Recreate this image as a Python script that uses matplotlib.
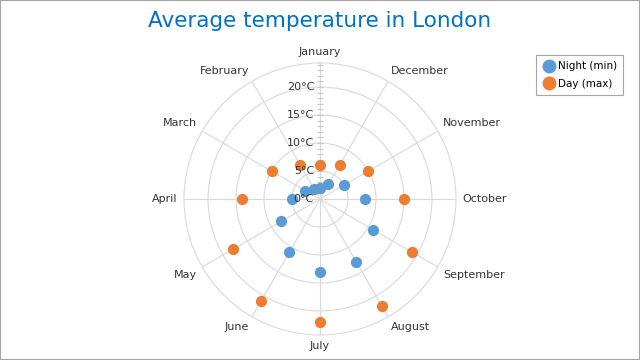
# Polar scatter: average London temperatures by month (night min / day max)
import numpy as np
import matplotlib
matplotlib.use('Agg')
import matplotlib.pyplot as plt
from matplotlib.lines import Line2D
from matplotlib.patches import Rectangle
from matplotlib import transforms

months = ['January', 'February', 'March', 'April', 'May', 'June',
          'July', 'August', 'September', 'October', 'November', 'December']
night_min = [2, 2, 3, 5, 8, 11, 13, 13, 11, 8, 5, 3]
day_max = [6, 7, 10, 14, 18, 21, 22, 22, 19, 15, 10, 7]
r_ticks = [0, 5, 10, 15, 20]

BLUE = '#5B9BD5'
ORANGE = '#ED7D31'
GRID = '#D9D9D9'
RMAX = 24.3

fig = plt.figure(figsize=(6.4, 3.6), dpi=100)
fig.patches.append(Rectangle((0, 0), 1, 1, transform=fig.transFigure,
                             fill=False, edgecolor='#A6A6A6', linewidth=1.5))

ax = fig.add_axes([0.2875, 0.0694, 0.425, 0.7556], projection='polar')
ax.set_theta_zero_location('N')
ax.set_theta_direction(1)
ax.set_ylim(0, RMAX)

theta = np.deg2rad(np.arange(len(months)) * 30)
ax.set_xticks(theta)
ax.set_xticklabels([])
ax.set_yticks(r_ticks[1:])
ax.set_yticklabels([])
ax.grid(True, color=GRID, linewidth=0.8)
ax.spines['polar'].set_color(GRID)
ax.spines['polar'].set_linewidth(0.8)
ax.tick_params(length=0)

# minor ticks along the radial axis
minor = [v for v in range(1, 25)]
ax.plot(np.zeros(len(minor)), minor, linestyle='none', marker='_',
        markersize=4, color='#C8C8C8', markeredgewidth=0.8, clip_on=False)

ax.scatter(theta, night_min, s=50, color=BLUE, zorder=3, clip_on=False)
ax.scatter(theta, day_max, s=50, color=ORANGE, zorder=3, clip_on=False)

# radial labels
off = transforms.offset_copy(ax.transData, fig=fig, x=-6, y=0, units='dots')
for v in r_ticks:
    ax.text(0, v, f'{v}°C', transform=off, ha='right', va='center',
            fontsize=8, color='#333333')

# month labels
for t, name in zip(theta, months):
    dx = -np.sin(t)
    dy = np.cos(t)
    ha = 'center' if abs(dx) < 0.1 else ('left' if dx > 0 else 'right')
    va = 'center' if abs(dy) < 0.1 else ('bottom' if dy > 0 else 'top')
    ax.text(t, RMAX * 1.045, name, ha=ha, va=va, fontsize=8,
            color='#333333', clip_on=False)

fig.text(0.5, 0.943, 'Average temperature in London', ha='center', va='center',
         fontsize=15.5, color='#0072C6')

handles = [Line2D([], [], linestyle='none', marker='o', markersize=9,
                  color=BLUE, label='Night (min)'),
           Line2D([], [], linestyle='none', marker='o', markersize=9,
                  color=ORANGE, label='Day (max)')]
leg = fig.legend(handles=handles, loc='upper right',
                 bbox_to_anchor=(0.974, 0.847), borderaxespad=0,
                 fontsize=7.5, frameon=True,
                 fancybox=False, edgecolor='#A6A6A6', framealpha=1,
                 handletextpad=0.3, borderpad=0.6, labelspacing=0.75,
                 handlelength=1.2)
leg.get_frame().set_linewidth(0.8)

fig.savefig('out.png', dpi=100)
